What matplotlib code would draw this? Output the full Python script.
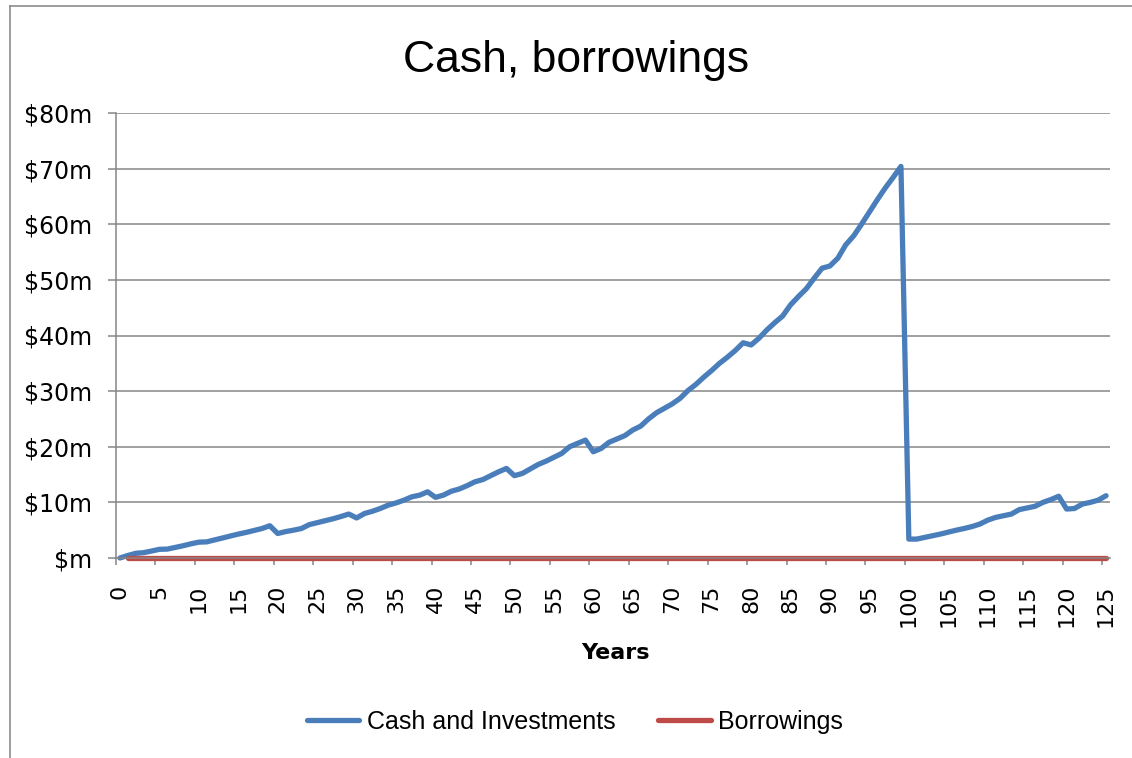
import numpy as np
import matplotlib.pyplot as plt
from matplotlib.lines import Line2D

W, H = 1132, 758

years = np.arange(0, 126)

# cash and investments balance, $m, by year
cash = [
    0.0, 0.45, 0.84, 0.96, 1.25, 1.56, 1.6, 1.9, 2.2, 2.55,
    2.85, 2.9, 3.25, 3.6, 3.95, 4.3, 4.6, 4.95, 5.3, 5.8,
    4.4, 4.75, 5.0, 5.3, 6.0, 6.35, 6.7, 7.05, 7.45, 7.9,
    7.2, 8.0, 8.4, 8.9, 9.5, 9.9, 10.4, 11.0, 11.3, 11.9,
    10.9, 11.3, 12.0, 12.4, 13.0, 13.7, 14.1, 14.8, 15.5, 16.1,
    14.8, 15.2, 16.0, 16.8, 17.4, 18.1, 18.8, 20.0, 20.6, 21.2,
    19.1, 19.7, 20.8, 21.4, 22.0, 23.0, 23.7, 25.0, 26.1, 26.9,
    27.7, 28.7, 30.1, 31.2, 32.5, 33.7, 35.0, 36.1, 37.3, 38.7,
    38.3, 39.5, 41.0, 42.3, 43.5, 45.5, 47.0, 48.4, 50.3, 52.1,
    52.5, 53.9, 56.3, 57.9, 60.0, 62.2, 64.4, 66.5, 68.4, 70.4,
    3.4, 3.4, 3.7, 4.0, 4.3, 4.65, 5.0, 5.3, 5.65, 6.1,
    6.8, 7.3, 7.6, 7.9, 8.7, 9.0, 9.3, 10.0, 10.5, 11.1,
    8.8, 8.9, 9.7, 10.0, 10.4, 11.2,
]

# borrowings start in year 1
borrow_years = years[1:]
borrowings = [0.0] * len(borrow_years)

y_ticks = [0, 10, 20, 30, 40, 50, 60, 70, 80]
y_labels = ['$m', '$10m', '$20m', '$30m', '$40m', '$50m', '$60m', '$70m', '$80m']
x_label_years = list(range(0, 126, 5))

blue = '#4A7EBB'
red = '#BE4B48'
grey = '#868686'

fig = plt.figure(figsize=(W / 100, H / 100), dpi=100)
ax = fig.add_axes([116 / W, 1 - 558 / H, (1110 - 116) / W, (558 - 113) / H])

ax.plot(years, cash, color=blue, lw=3.8, solid_capstyle='round',
        solid_joinstyle='round', label='Cash and Investments', clip_on=False)
ax.plot(borrow_years, borrowings, color=red, lw=3.8, solid_capstyle='round',
        label='Borrowings', clip_on=False)

ax.set_xlim(-0.5, 125.5)
ax.set_ylim(0, 80)

for side in ['top', 'right']:
    ax.spines[side].set_visible(False)
for side in ['left', 'bottom']:
    ax.spines[side].set_color(grey)
    ax.spines[side].set_linewidth(1.1)

ax.yaxis.grid(True, color=grey, lw=1.1)
ax.set_axisbelow(True)

ax.set_yticks(y_ticks, y_labels)
ax.tick_params(axis='y', length=6, width=1.1, color=grey, pad=11, labelsize=17)

ax.set_xticks(x_label_years, [str(v) for v in x_label_years], rotation=90)
ax.set_xticks(np.arange(-0.5, 125, 5), minor=True)
ax.tick_params(axis='x', which='major', length=0, pad=19, labelsize=16)
ax.tick_params(axis='x', which='minor', length=5, width=1.1, color=grey)

fig.text(615 / W, 1 - 653 / H, 'Years', ha='center', va='center',
         fontsize=16, fontweight='bold')

fig.text(576 / W, 1 - 72 / H, 'Cash, borrowings', ha='center', va='baseline',
         fontsize=32, family=['Liberation Sans', 'DejaVu Sans'])

fig.legend(loc='center', bbox_to_anchor=(575 / W, 1 - 722 / H), ncol=2,
           frameon=False, handlelength=2.1, handletextpad=0.3, columnspacing=1.7,
           prop={'family': ['Liberation Sans', 'DejaVu Sans'], 'size': 18})

# outer chart frame
fig.add_artist(Line2D([10 / W, 10 / W], [0, 1 - 6 / H], color='#8c8c8c', lw=1.2,
                      transform=fig.transFigure))
fig.add_artist(Line2D([10 / W, 1], [1 - 6 / H, 1 - 6 / H], color='#8c8c8c', lw=1.2,
                      transform=fig.transFigure))

fig.savefig('out.png', dpi=100)
